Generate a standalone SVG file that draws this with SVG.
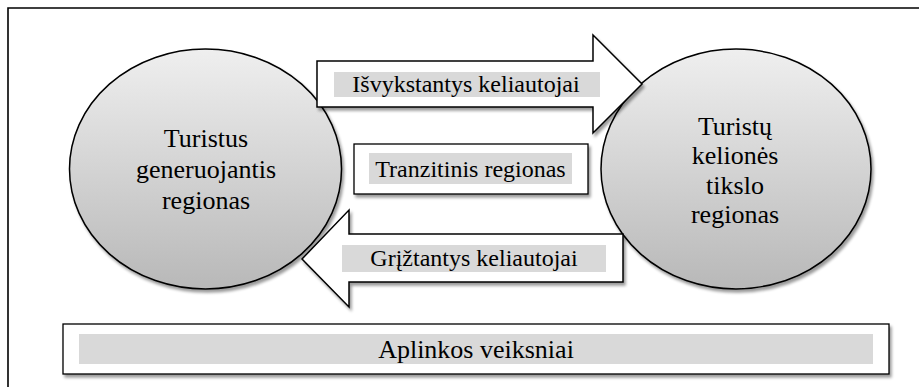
<svg xmlns="http://www.w3.org/2000/svg" width="919" height="387" viewBox="0 0 919 387">
  <defs>
    <linearGradient id="ballFill" x1="0" y1="0" x2="0" y2="1">
      <stop offset="0" stop-color="#efefef"/>
      <stop offset="1" stop-color="#b8b8b8"/>
    </linearGradient>
    <filter id="shadow" x="-10%" y="-10%" width="125%" height="130%">
      <feGaussianBlur in="SourceAlpha" stdDeviation="1.5"/>
      <feOffset dx="1.5" dy="2.5" result="off"/>
      <feComponentTransfer><feFuncA type="linear" slope="0.4"/></feComponentTransfer>
      <feMerge><feMergeNode/><feMergeNode in="SourceGraphic"/></feMerge>
    </filter>
  </defs>
  <style>
    .frame { fill: none; stroke: #000; stroke-width: 1.6; }
    .region { fill: url(#ballFill); stroke: #000; stroke-width: 1.5; filter: url(#shadow); }
    .box { fill: #fff; stroke: #000; stroke-width: 1.3; filter: url(#shadow); }
    .flow { fill: #fff; stroke: #000; stroke-width: 1.5; stroke-linejoin: miter; filter: url(#shadow); }
    .band { fill: #d9d9d9; }
    .t { font-family: 'Liberation Serif', 'Times New Roman', Times, 'DejaVu Serif', serif; fill: #000; text-anchor: middle; }
    .big { font-size: 26px; }
    .lbl { font-size: 24px; }
  </style>

  <!-- outer frame: top and left edges -->
  <path class="frame" d="M8,387 V8 H919"/>

  <g id="generating-region">
    <ellipse class="region" cx="205.5" cy="169" rx="136" ry="120"/>
    <text class="t big" x="206" y="147">Turistus</text>
    <text class="t big" x="206" y="178">generuojantis</text>
    <text class="t big" x="206" y="209">regionas</text>
  </g>

  <g id="destination-region">
    <ellipse class="region" cx="736" cy="169" rx="135" ry="120"/>
    <text class="t big" x="735" y="134.5">Turistų</text>
    <text class="t big" x="735" y="164">kelionės</text>
    <text class="t big" x="735" y="193.5">tikslo</text>
    <text class="t big" x="735" y="223">regionas</text>
  </g>

  <g id="connectors">
    <g id="departing">
      <polygon class="flow" points="317,61 593,61 593,35 642,84 593,133 593,107 317,107"/>
      <rect class="band" x="334" y="72" width="266" height="25"/>
      <text class="t lbl" x="466" y="92">Išvykstantys keliautojai</text>
    </g>
    <g id="returning">
      <polygon class="flow" points="623,234 349,234 349,210 302,259 349,307 349,282 623,282"/>
      <rect class="band" x="342" y="245" width="264" height="27"/>
      <text class="t lbl" x="474" y="266">Grįžtantys keliautojai</text>
    </g>
  </g>

  <g id="transit-region">
    <rect class="box" x="354" y="144" width="234" height="50"/>
    <rect class="band" x="369" y="153" width="203" height="31"/>
    <text class="t lbl" x="470.5" y="177">Tranzitinis regionas</text>
  </g>

  <g id="environment">
    <rect class="box" x="63" y="324" width="826" height="50"/>
    <rect class="band" x="79" y="334" width="794" height="30"/>
    <text class="t big" x="476" y="358">Aplinkos veiksniai</text>
  </g>
</svg>
